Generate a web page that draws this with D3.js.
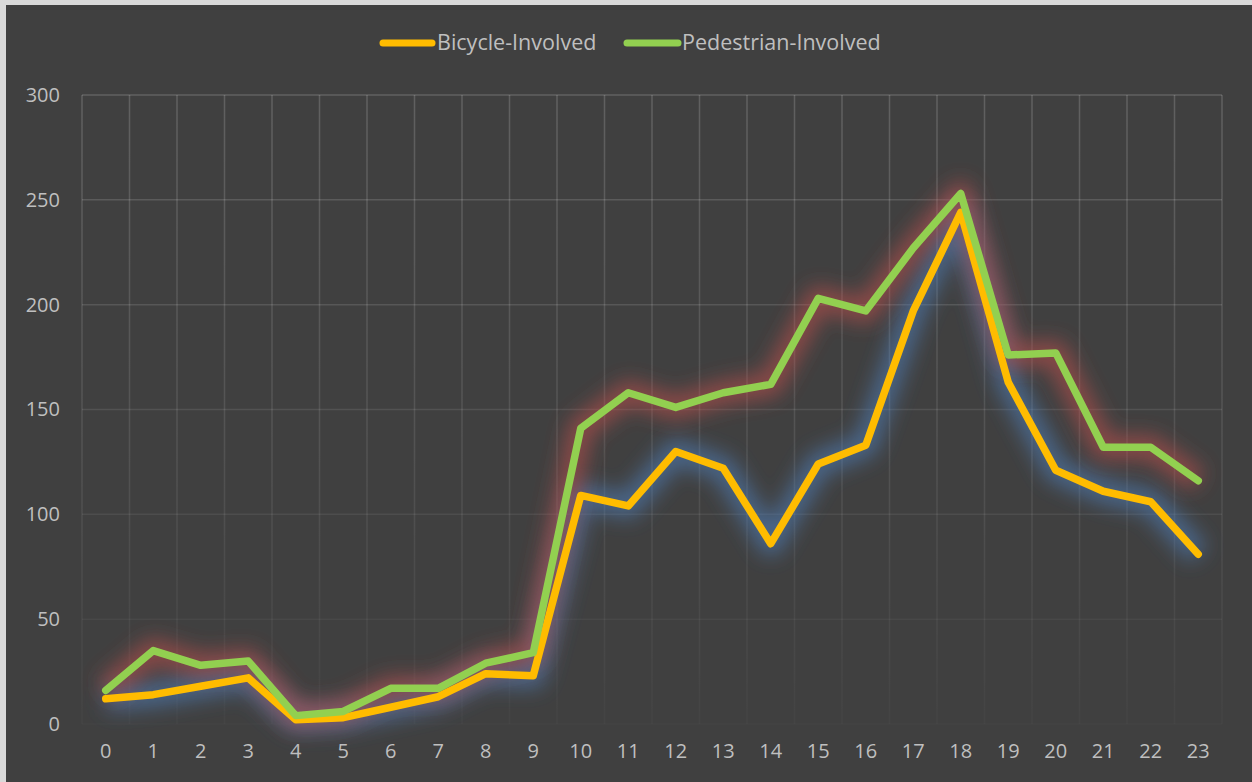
<!DOCTYPE html>
<html>
<head>
<meta charset="utf-8">
<script src="https://cdn.jsdelivr.net/npm/d3@7"></script>
<style>
  html, body { margin: 0; padding: 0; background: #d9d9d9; }
  svg { display: block; }
  text { font-family: "Open Sans", "Noto Sans", sans-serif; fill: #bfbfbf; }
</style>
</head>
<body>
<svg id="chart" width="1252" height="782"></svg>
<script>
// Hour of day (0–23)
const hours = d3.range(0, 24).map(String);
// Crash counts by hour
const bicycle = [12, 14, 18, 22, 2, 3, 8, 13, 24, 23, 109, 104, 130, 122, 86, 124, 133, 197, 244, 163, 121, 111, 106, 81];
const pedestrian = [16, 35, 28, 30, 4, 6, 17, 17, 29, 34, 141, 158, 151, 158, 162, 203, 197, 227, 253, 176, 177, 132, 132, 116];
const yTicks = [0, 50, 100, 150, 200, 250, 300];

const seriesList = [
  { name: "Bicycle-Involved", values: bicycle, color: "#FFBC00", glow: "#4f81bd" },
  { name: "Pedestrian-Involved", values: pedestrian, color: "#92D050", glow: "#c0504d" }
];

const W = 1252, H = 782;
const margin = { left: 82, right: 30, top: 95, bottom: 58 };
const svg = d3.select("#chart");

// page frame
svg.append("rect").attr("x", 6).attr("y", 5).attr("width", W - 6).attr("height", H - 5).attr("fill", "#404040");

const x = d3.scaleBand().domain(hours).range([margin.left, W - margin.right]);
const y = d3.scaleLinear().domain([0, 300]).range([H - margin.bottom, margin.top]);

const defs = svg.append("defs");
const gridGrad = defs.append("linearGradient").attr("id", "gridFade")
  .attr("gradientUnits", "userSpaceOnUse")
  .attr("x1", 0).attr("x2", 0).attr("y1", y(300)).attr("y2", y(0));
gridGrad.append("stop").attr("offset", 0).attr("stop-color", "#ffffff").attr("stop-opacity", 0.17);
gridGrad.append("stop").attr("offset", 0.55).attr("stop-color", "#ffffff").attr("stop-opacity", 0.1);
gridGrad.append("stop").attr("offset", 1).attr("stop-color", "#ffffff").attr("stop-opacity", 0.02);

const glowFilter = defs.append("filter").attr("id", "glow")
  .attr("x", "-20%").attr("y", "-20%").attr("width", "140%").attr("height", "140%");
glowFilter.append("feGaussianBlur").attr("stdDeviation", 10);

// grid: horizontal lines fade with depth, vertical lines drawn as thin gradient rects
const grid = svg.append("g");
yTicks.forEach(t => {
  const f = (y(t) - y(300)) / (y(0) - y(300));
  grid.append("line").attr("x1", margin.left).attr("x2", W - margin.right)
    .attr("y1", y(t)).attr("y2", y(t))
    .attr("stroke", "#ffffff").attr("stroke-opacity", 0.17 - 0.15 * f).attr("stroke-width", 1.5);
});
const boundaries = hours.map(h => x(h)).concat([x(hours[hours.length - 1]) + x.bandwidth()]);
boundaries.forEach(bx => {
  grid.append("rect").attr("x", bx - 0.75).attr("y", y(300)).attr("width", 1.5)
    .attr("height", y(0) - y(300)).attr("fill", "url(#gridFade)");
});

// axes
const yAxis = d3.axisLeft(y).tickValues(yTicks).tickSize(0).tickPadding(22);
const yg = svg.append("g").attr("transform", `translate(${margin.left},0)`).call(yAxis);
yg.select(".domain").remove();
yg.selectAll("text").attr("font-size", 20).style("fill", "#bfbfbf");

const xAxis = d3.axisBottom(x).tickSize(0).tickPadding(20);
const xg = svg.append("g").attr("transform", `translate(0,${y(0)})`).call(xAxis);
xg.select(".domain").remove();
xg.selectAll("text").attr("font-size", 20).style("fill", "#bfbfbf");

// lines with soft coloured halos
const line = d3.line()
  .x((d, i) => x(hours[i]) + x.bandwidth() / 2)
  .y(d => y(d));

seriesList.forEach(s => {
  svg.append("path").datum(s.values).attr("d", line)
    .attr("fill", "none").attr("stroke", s.glow).attr("stroke-opacity", 0.6)
    .attr("stroke-width", 24).attr("stroke-linejoin", "round").attr("filter", "url(#glow)");
});
seriesList.forEach(s => {
  svg.append("path").datum(s.values).attr("d", line)
    .attr("fill", "none").attr("stroke", s.color)
    .attr("stroke-width", 7.5).attr("stroke-linejoin", "round").attr("stroke-linecap", "round");
});

// legend
const legend = svg.append("g");
const legendItems = [
  { s: seriesList[0], x0: 383, x1: 432, tx: 437 },
  { s: seriesList[1], x0: 627, x1: 678, tx: 682 }
];
legendItems.forEach(it => {
  legend.append("line").attr("x1", it.x0).attr("x2", it.x1).attr("y1", 43).attr("y2", 43)
    .attr("stroke", it.s.color).attr("stroke-width", 7).attr("stroke-linecap", "round");
  legend.append("text").attr("x", it.tx).attr("y", 50).attr("font-size", 21.5).text(it.s.name);
});
</script>
</body>
</html>
